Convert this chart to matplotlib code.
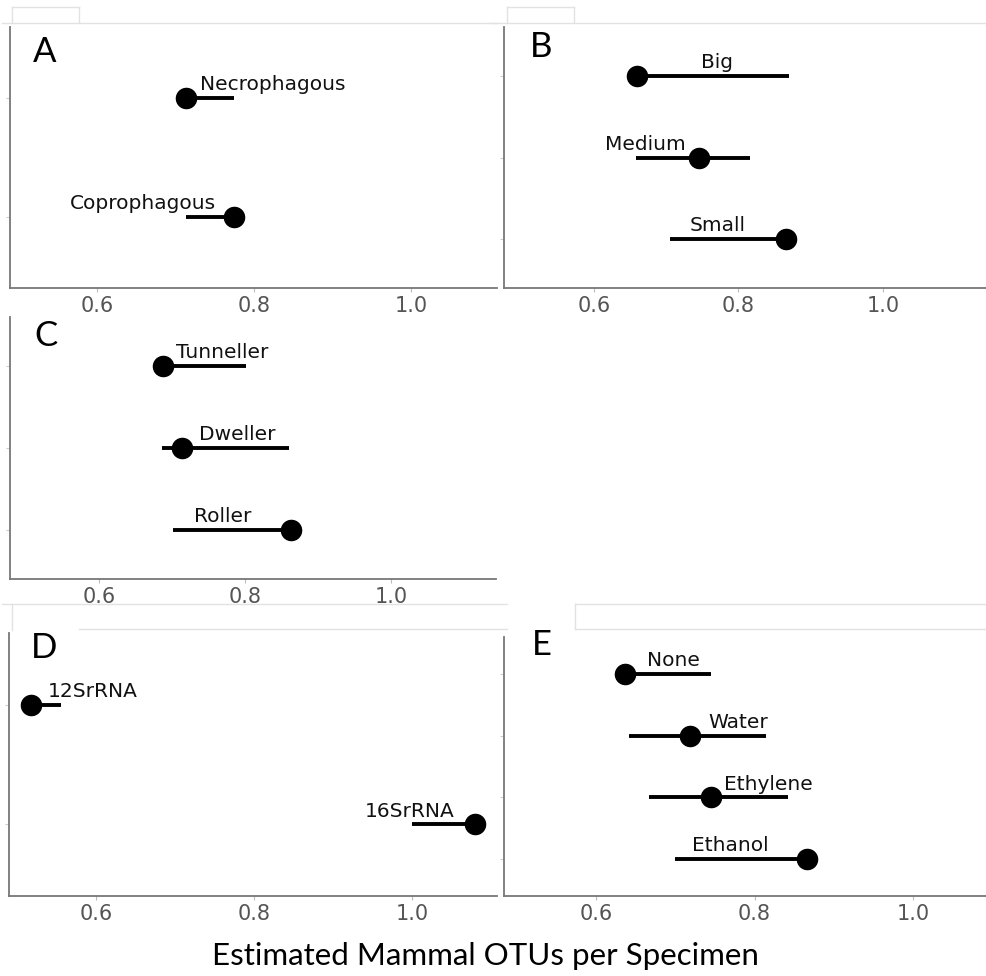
import numpy as np
import matplotlib.pyplot as plt
from matplotlib.lines import Line2D

W, H = 986, 976

# panel A - feeding
a_names = ["Necrophagous", "Coprophagous"]
a_est = [0.713, 0.775]
a_lo = [0.713, 0.713]
a_hi = [0.775, 0.775]

# panel B - size
b_names = ["Big", "Medium", "Small"]
b_est = [0.660, 0.745, 0.866]
b_lo = [0.660, 0.658, 0.705]
b_hi = [0.870, 0.816, 0.866]

# panel C - nesting
c_names = ["Tunneller", "Dweller", "Roller"]
c_est = [0.688, 0.714, 0.863]
c_lo = [0.688, 0.686, 0.701]
c_hi = [0.801, 0.860, 0.863]

# panel D - marker
d_names = ["12SrRNA", "16SrRNA"]
d_est = [0.518, 1.080]
d_lo = [0.518, 1.000]
d_hi = [0.556, 1.080]

# panel E - preservative
e_names = ["None", "Water", "Ethylene", "Ethanol"]
e_est = [0.636, 0.719, 0.745, 0.866]
e_lo = [0.636, 0.642, 0.667, 0.700]
e_hi = [0.745, 0.815, 0.842, 0.866]

xticks = [0.6, 0.8, 1.0]
xlabel = "Estimated Mammal OTUs per Specimen"

# layout: (letter, pixel box l,t,r,b, xlim, label x, letter pos)
panels = [
    ("A", a_names, a_est, a_lo, a_hi, (10, 27, 497, 288), (0.4892, 1.1096),
     [0.824, 0.659], (33, 62)),
    ("B", b_names, b_est, b_lo, b_hi, (504, 27, 986, 288), (0.4754, 1.1426),
     [0.770, 0.671, 0.771], (530, 57)),
    ("C", c_names, c_est, c_lo, c_hi, (10, 317, 496, 579), (0.478, 1.144),
     [0.769, 0.789, 0.769], (34, 346)),
    ("D", d_names, d_est, d_lo, d_hi, (9, 633, 497, 896), (0.4899, 1.1076),
     [0.596, 0.997], (31, 658)),
    ("E", e_names, e_est, e_lo, e_hi, (504, 637, 986, 896), (0.4839, 1.0921),
     [0.698, 0.780, 0.817, 0.770], (532, 655)),
]

fig = plt.figure(figsize=(W / 100, H / 100), dpi=100)
fig.patch.set_facecolor("white")

# faint frame lines left over from the pasted screenshots
frame = "#e2e2e2"
for (x0, y0, x1, y1) in [(2, 23, 497, 23), (12, 7, 79, 7), (12, 7, 12, 23), (79, 7, 79, 23),
                         (490, 23, 986, 23), (507, 7, 574, 7), (507, 7, 507, 23), (574, 7, 574, 23),
                         (2, 604, 507, 604), (79, 629, 507, 629), (12, 604, 12, 630),
                         (575, 604, 986, 604), (575, 629, 986, 629), (575, 604, 575, 629)]:
    fig.add_artist(Line2D([x0 / W, x1 / W], [1 - y0 / H, 1 - y1 / H], color=frame, lw=1))

for letter, names, est, lo, hi, box, xlim, lab_x, lpos in panels:
    l, t, r, b = box
    ax = fig.add_axes([l / W, 1 - b / H, (r - l) / W, (b - t) / H])
    n = len(names)
    ys = np.arange(n, 0, -1)
    ax.hlines(ys, lo, hi, color="black", lw=2.8, zorder=2)
    ax.plot(est, ys, "o", color="black", ms=14.5, zorder=3)
    for name, lx, y in zip(names, lab_x, ys):
        ax.annotate(name, (lx, y), xytext=(0, 9.5), textcoords="offset points",
                    ha="center", va="center", fontsize=14.5, color="#111111")
    ax.set_xlim(*xlim)
    ax.set_ylim(0.4, n + 0.6)
    ax.set_xticks(xticks)
    ax.set_xticklabels(["0.6", "0.8", "1.0"])
    ax.set_yticks(ys)
    ax.set_yticklabels([])
    ax.tick_params(axis="x", direction="out", length=3, color="#bbbbbb",
                   labelcolor="#555555", labelsize=15, pad=3)
    ax.tick_params(axis="y", direction="out", length=3, color="#cccccc")
    for s in ["top", "right"]:
        ax.spines[s].set_visible(False)
    for s in ["left", "bottom"]:
        ax.spines[s].set_color("#777777")
        ax.spines[s].set_linewidth(1.3)
    fig.text(lpos[0] / W, 1 - lpos[1] / H, letter, fontsize=25, family="Lato",
             ha="left", va="baseline", color="black")

fig.text(485 / W, 1 - 965 / H, xlabel, fontsize=22.5, family="Lato",
         ha="center", va="baseline", color="black")

plt.savefig("out.png", dpi=100)
